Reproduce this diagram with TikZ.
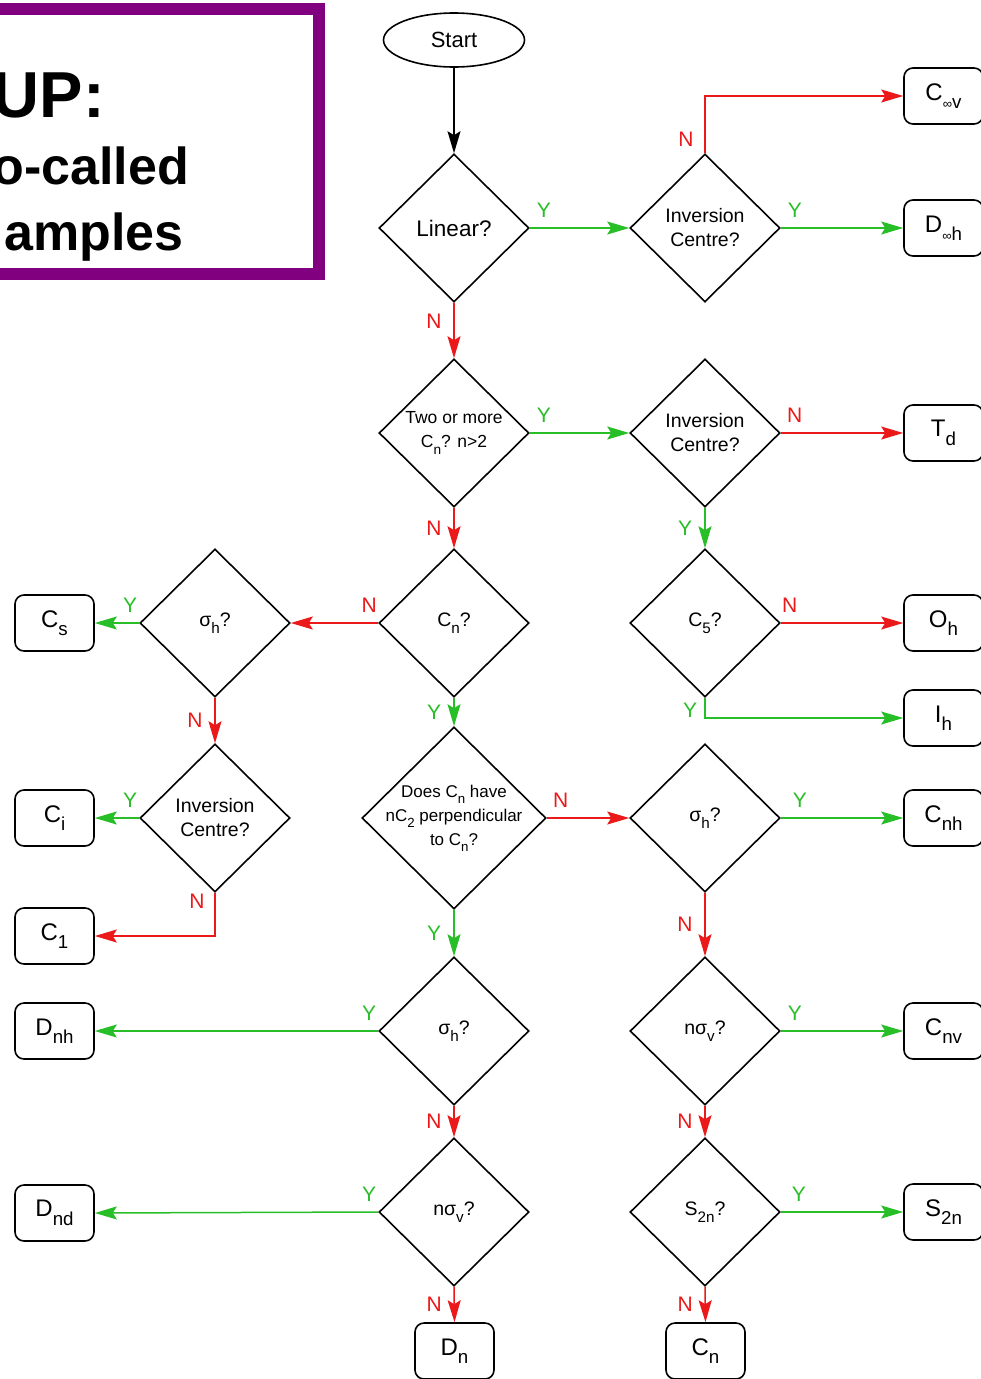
\documentclass[tikz,border=0pt]{standalone}
\usepackage{fontspec}
\setmainfont{Liberation Sans}
\usetikzlibrary{shapes.geometric,arrows.meta}
\definecolor{fred}{RGB}{235,25,25}
\definecolor{fgreen}{RGB}{40,190,40}
\definecolor{fpurple}{RGB}{128,0,128}
\newcommand\lo[1]{\raisebox{-0.35em}{\scalebox{0.78}{#1}}}
\begin{document}
\begin{tikzpicture}[x=1pt,y=-1pt,
  dia/.style={diamond, draw, line width=1.6pt, minimum width=150pt, minimum height=148pt, inner sep=0pt},
  dtxt/.style={font=\fontsize{19.5}{23}\selectfont, align=center, inner sep=0pt},
  res/.style={draw, rounded corners=9pt, line width=1.6pt, minimum width=79pt, minimum height=56pt, font=\fontsize{24}{26}\selectfont, inner sep=0pt},
  arr/.style={line width=1.5pt, -{Stealth[length=22pt,width=13pt,inset=4pt]}},
  yes/.style={arr, fgreen},
  no/.style={arr, fred},
  lbl/.style={font=\fontsize{21}{21}\selectfont, inner sep=0pt},
  lr/.style={lbl, at start, xshift=14pt, yshift=18pt},
  ll/.style={lbl, at start, xshift=-9pt, yshift=18pt},
  ld/.style={lbl, midway, xshift=-20pt},
  ttl/.style={font=\fontsize{52}{52}\selectfont\bfseries, inner sep=0pt, anchor=base east},
]
\useasboundingbox (0,0) rectangle (981,1379);
% title box
\draw[fpurple, line width=12pt, line join=miter] (-30,9) -- (319,9) -- (319,274) -- (-30,274);
\node[ttl, font=\fontsize{65}{65}\selectfont\bfseries] (t1) at (105,117) {UP:};
\node[ttl] (t2) at (189,184) {o-called};
\node[ttl] (t3) at (184,250) {amples};

% start
\node[ellipse, draw, line width=1.6pt, minimum width=141pt, minimum height=54pt, inner sep=0pt] (start) at (454,40) {};
\node[dtxt, font=\fontsize{22}{24}\selectfont] (startT) at (start) {Start};

% diamonds
\node[dia] (lin) at (454,228) {};
\node[dtxt, font=\fontsize{22.5}{24}\selectfont] (linT) at (lin) {Linear?};
\node[dia] (inv1) at (705,228) {};
\node[dtxt, font=\fontsize{19.5}{24}\selectfont] (inv1T) at (inv1) {Inversion\\Centre?};
\node[dia] (two) at (454,433) {};
\node[dtxt, font=\fontsize{17.5}{24}\selectfont] (twoT) at (two) {Two or more\\C\lo{n}? n>2};
\node[dia] (inv2) at (705,433) {};
\node[dtxt, font=\fontsize{19.5}{24}\selectfont] (inv2T) at (inv2) {Inversion\\Centre?};
\node[dia] (cn) at (454,623) {};
\node[dtxt] (cnT) at (cn) {C\lo{n}?};
\node[dia] (c5) at (705,623) {};
\node[dtxt] (c5T) at (c5) {C\lo{5}?};
\node[dia] (shl) at (215,623) {};
\node[dtxt] (shlT) at (shl) {σ\lo{h}?};
\node[dia] (inv3) at (215,818) {};
\node[dtxt, font=\fontsize{19.5}{24}\selectfont] (inv3T) at (inv3) {Inversion\\Centre?};
\node[dia, minimum width=184pt, minimum height=182pt] (does) at (454,818) {};
\node[dtxt, font=\fontsize{17}{24}\selectfont] (doesT) at (does) {Does C\lo{n} have\\nC\lo{2} perpendicular\\to C\lo{n}?};
\node[dia] (shr) at (705,818) {};
\node[dtxt] (shrT) at (shr) {σ\lo{h}?};
\node[dia] (shm) at (454,1031) {};
\node[dtxt] (shmT) at (shm) {σ\lo{h}?};
\node[dia] (nvr) at (705,1031) {};
\node[dtxt] (nvrT) at (nvr) {nσ\lo{v}?};
\node[dia] (nvm) at (454,1212) {};
\node[dtxt] (nvmT) at (nvm) {nσ\lo{v}?};
\node[dia] (s2n) at (705,1212) {};
\node[dtxt] (s2nT) at (s2n) {S\lo{2n}?};

% results right
\node[res] (rCinfv) at (943.5,96) {C\lo{\scalebox{0.7}{∞}v}};
\node[res] (rDinfh) at (943.5,228) {D\lo{\scalebox{0.7}{∞}h}};
\node[res] (rTd) at (943.5,433) {T\lo{d}};
\node[res] (rOh) at (943.5,623) {O\lo{h}};
\node[res] (rIh) at (943.5,718) {I\lo{h}};
\node[res] (rCnh) at (943.5,818) {C\lo{nh}};
\node[res] (rCnv) at (943.5,1031) {C\lo{nv}};
\node[res] (rS2n) at (943.5,1212) {S\lo{2n}};
% results left
\node[res] (rCs) at (54.5,623) {C\lo{s}};
\node[res] (rCi) at (54.5,818) {C\lo{i}};
\node[res] (rC1) at (54.5,936) {C\lo{1}};
\node[res] (rDnh) at (54.5,1031) {D\lo{nh}};
\node[res] (rDnd) at (54.5,1213) {D\lo{nd}};
% results bottom
\node[res] (rDn) at (454.5,1351) {D\lo{n}};
\node[res] (rCn) at (705.5,1351) {C\lo{n}};

% connectors
\draw[arr, black] (start) -- (lin.north);
\draw[yes] (lin.east) -- node[lr]{Y} (inv1.west);
\draw[no] (inv1.north) |- node[lbl, at start, xshift=-19pt, yshift=14pt]{N} (rCinfv.west);
\draw[yes] (inv1.east) -- node[lr]{Y} (rDinfh.west);
\draw[no] (lin.south) -- node[ld, yshift=9pt]{N} (two.north);
\draw[yes] (two.east) -- node[lr]{Y} (inv2.west);
\draw[no] (inv2.east) -- node[lr]{N} (rTd.west);
\draw[no] (two.south) -- node[ld]{N} (cn.north);
\draw[yes] (inv2.south) -- node[ld]{Y} (c5.north);
\draw[no] (cn.west) -- node[ll]{N} (shl.east);
\draw[yes] (shl.west) -- node[ll]{Y} (rCs.east);
\draw[no] (shl.south) -- node[ld]{N} (inv3.north);
\draw[yes] (inv3.west) -- node[ll]{Y} (rCi.east);
\draw[no] (inv3.south) |- node[lbl, pos=0.1, xshift=-18pt]{N} (rC1.east);
\draw[no] (c5.east) -- node[lr, xshift=-5pt]{N} (rOh.west);
\draw[yes] (c5.south) |- node[lbl, at start, xshift=-15pt, yshift=-12pt]{Y} (rIh.west);
\draw[yes] (cn.south) -- node[ld]{Y} (does.north);
\draw[no] (does.east) -- node[lr]{N} (shr.west);
\draw[yes] (shr.east) -- node[lr, xshift=5pt]{Y} (rCnh.west);
\draw[no] (shr.south) -- node[ld]{N} (nvr.north);
\draw[yes] (does.south) -- node[ld]{Y} (shm.north);
\draw[yes] (shm.west) -- node[ll]{Y} (rDnh.east);
\draw[no] (shm.south) -- node[ld]{N} (nvm.north);
\draw[yes] (nvr.east) -- node[lr]{Y} (rCnv.west);
\draw[no] (nvr.south) -- node[ld]{N} (s2n.north);
\draw[yes] (nvm.west) -- node[ll]{Y} (rDnd.east);
\draw[no] (nvm.south) -- node[ld]{N} (rDn.north);
\draw[yes] (s2n.east) -- node[lr, xshift=4pt]{Y} (rS2n.west);
\draw[no] (s2n.south) -- node[ld]{N} (rCn.north);
\end{tikzpicture}
\end{document}
